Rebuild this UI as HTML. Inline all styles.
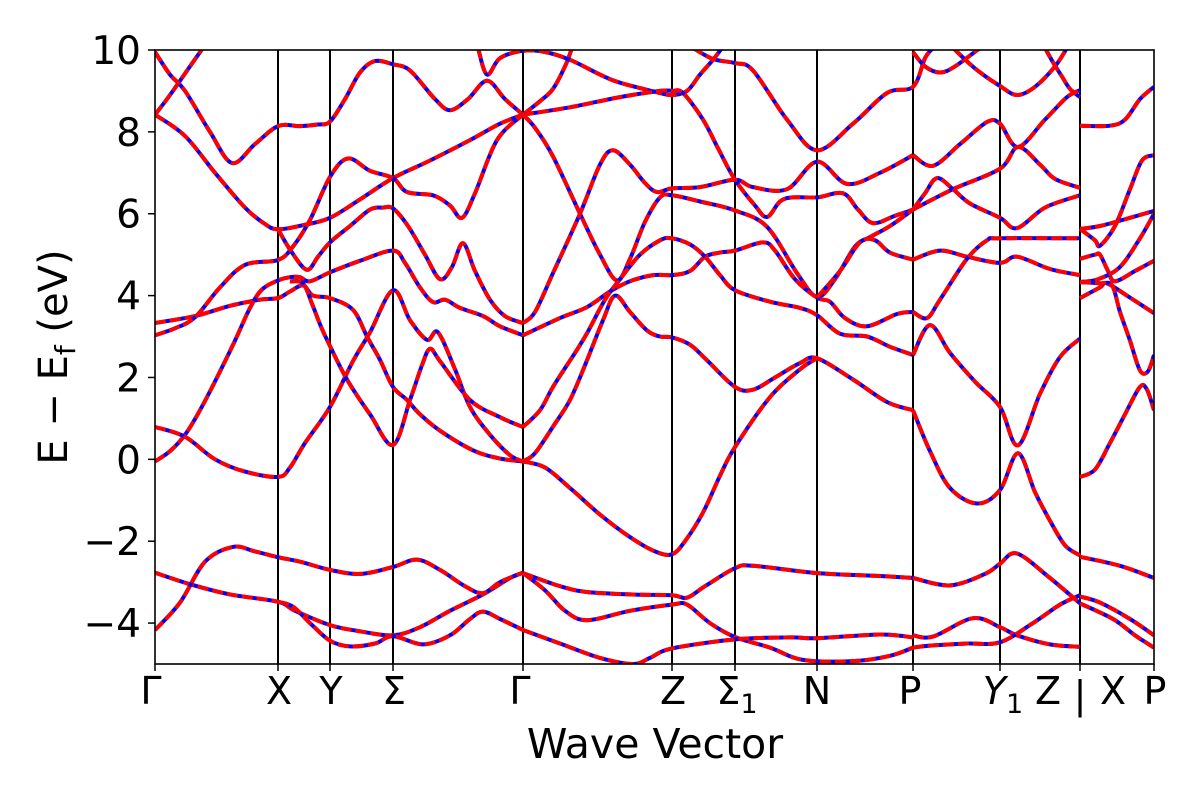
<!DOCTYPE html>
<html><head><meta charset="utf-8"><style>
html,body{margin:0;padding:0;background:#fff;}
svg{display:block;font-family:"DejaVu Sans","Liberation Sans",sans-serif;}
</style></head><body>
<svg id="chart" width="1200" height="800" viewBox="0 0 1200 800" xmlns="http://www.w3.org/2000/svg">
<defs><clipPath id="plotclip"><rect x="155" y="50" width="999" height="614"/></clipPath></defs>
<rect x="0" y="0" width="1200" height="800" fill="#fff"/>
<g id="vlines"></g>
<g id="bands" clip-path="url(#plotclip)"></g>
<rect x="155" y="50" width="999" height="614" fill="none" stroke="#000" stroke-width="1.6"/>
<g id="yticks"></g>
<g id="xticks"></g>
<text x="655" y="758" font-size="41" text-anchor="middle">Wave Vector</text>
<text transform="translate(67,357) rotate(-90)" font-size="40" text-anchor="middle">E − E<tspan font-size="28" dy="8">f</tspan><tspan dy="-8"> (eV)</tspan></text>
</svg>
<script>
const kTicks = [155, 278, 330, 393, 523, 672, 735, 817, 913, 1000, 1080, 1154];
const yTickValues = [-4, -2, 0, 2, 4, 6, 8, 10];
const yTickLabels = ["−4", "−2", "0", "2", "4", "6", "8", "10"];
const kMin = 155, kMax = 1154, eMin = -5, eMax = 10;

// Γ–X
const b01 = [[155,8.42],[170,8.9],[190,9.6],[203,10.05]];
const b02 = [[155,9.95],[170,9.4],[185,9.0],[210,8.0],[232,7.24],[255,7.7],[278,8.14],[300,8.14],[318,8.18],[330,8.25],[345,8.8],[360,9.45],[375,9.73],[393,9.65],[410,9.5],[435,8.8],[450,8.53],[468,8.8],[487,9.25],[505,8.8],[523,8.42]];
const b03 = [[155,8.42],[185,7.9],[215,7.0],[245,6.15],[265,5.75],[278,5.62],[303,5.72],[330,5.9],[360,6.35],[393,6.87],[430,7.3],[470,7.8],[500,8.2],[523,8.42]];
const b04 = [[155,3.33],[195,3.5],[230,3.75],[260,3.9],[278,3.94],[290,4.1],[303,4.25],[313,4.0],[330,3.94],[353,3.65],[367,3.0],[380,2.43],[393,1.77],[407,1.45],[420,1.1],[440,0.7],[473,0.22],[500,0.02],[523,-0.05]];
const b05 = [[155,3.03],[175,3.2],[195,3.47],[220,4.2],[245,4.75],[278,4.87],[293,5.2],[310,5.85],[330,6.9],[348,7.35],[370,7.05],[393,6.87],[407,6.53],[433,6.45],[450,6.2],[462,5.9],[475,6.5],[497,7.8],[523,8.42]];
const b06 = [[155,-0.05],[170,0.2],[185,0.6],[200,1.2],[217,2.0],[235,2.9],[250,3.7],[262,4.15],[278,4.37],[290,4.45],[300,4.45],[310,4.35],[330,4.57],[360,4.85],[393,5.1],[405,4.8],[420,4.2],[433,3.84],[445,3.9],[460,3.7],[483,3.5],[500,3.25],[523,3.03]];
const b07 = [[155,0.79],[185,0.55],[215,0.0],[245,-0.3],[278,-0.43],[290,-0.2],[305,0.4],[330,1.28],[353,2.4],[370,3.1],[393,4.13],[410,3.4],[427,2.92],[438,3.1],[455,2.2],[470,1.28],[490,0.6],[510,0.1],[523,-0.05]];
const b08 = [[278,5.62],[292,5.05],[307,4.63],[318,4.95],[330,5.3],[350,5.7],[370,6.1],[383,6.15],[393,6.13],[408,5.7],[425,5.0],[440,4.4],[452,4.7],[463,5.28],[475,4.6],[490,3.9],[505,3.5],[523,3.33]];
const b09 = [[290,4.35],[303,4.3],[312,3.8],[320,3.3],[327,2.92],[347,1.95],[370,1.1],[393,0.35],[410,1.45],[422,2.3],[430,2.7],[440,2.4],[470,1.45],[500,1.03],[523,0.79]];
const b10 = [[155,-2.77],[190,-3.05],[230,-3.3],[278,-3.48],[295,-3.7],[330,-4.05],[360,-4.2],[393,-4.3],[420,-4.1],[450,-3.7],[483,-3.3],[510,-2.9],[523,-2.77]];
const b11 = [[155,-4.17],[180,-3.5],[205,-2.5],[233,-2.14],[255,-2.25],[278,-2.39],[300,-2.5],[330,-2.7],[360,-2.8],[393,-2.63],[417,-2.45],[440,-2.7],[465,-3.1],[483,-3.27],[500,-3.0],[523,-2.77]];
const b12 = [[278,-3.48],[293,-3.6],[310,-4.0],[330,-4.43],[350,-4.57],[375,-4.5],[393,-4.32],[423,-4.52],[450,-4.3],[470,-3.9],[483,-3.72],[500,-3.9],[523,-4.17]];
// Γ–Z–Σ1–N–P
const b13 = [[478,10.05],[487,9.4],[500,9.8],[523,9.98],[545,9.95],[570,9.76],[600,9.4],[620,9.2],[660,8.95],[672,8.9],[687,9.0],[700,9.4],[713,9.76],[722,10.05]];
const b14 = [[523,8.42],[540,8.75],[553,9.05],[565,9.6],[572,10.05]];
const b15 = [[523,8.42],[570,8.6],[620,8.85],[660,9.0],[672,9.0],[683,8.95],[703,8.3],[718,7.6],[735,6.83],[755,6.2],[767,5.92],[780,6.3],[793,6.4],[817,6.4],[843,6.5],[858,6.1],[873,5.77],[895,5.95],[913,6.1]];
const b16 = [[523,8.42],[535,8.1],[553,7.4],[580,6.0],[600,5.0],[617,4.37],[630,4.9],[645,5.8],[660,6.4],[672,6.45],[700,6.3],[735,6.08],[767,5.68],[797,4.55],[817,3.97],[835,4.4],[855,5.2],[870,5.43],[890,5.7],[913,6.1]];
const b17 = [[523,3.33],[535,3.6],[553,4.55],[580,6.0],[600,7.2],[613,7.55],[630,7.2],[645,6.75],[657,6.53],[672,6.62],[700,6.65],[735,6.83],[753,6.65],[787,6.6],[817,7.27],[847,6.73],[880,7.0],[913,7.43]];
const b18 = [[523,3.03],[560,3.45],[587,3.72],[610,4.1],[630,4.35],[653,4.5],[672,4.5],[690,4.6],[705,4.95],[720,5.05],[735,5.1],[763,5.3],[775,5.1],[795,4.4],[817,3.95],[830,3.85],[845,3.45],[867,3.25],[897,3.55],[913,3.6]];
const b19 = [[523,0.79],[540,1.2],[553,1.77],[575,2.6],[587,3.08],[605,3.9],[620,4.4],[640,5.0],[660,5.35],[672,5.4],[690,5.25],[705,4.95],[720,4.5],[735,4.13],[770,3.85],[800,3.7],[817,3.52],[840,3.07],[867,3.0],[890,2.75],[913,2.55]];
const b20 = [[523,-0.05],[535,0.15],[553,0.8],[570,1.45],[585,2.3],[603,3.4],[615,4.0],[630,3.6],[647,3.15],[660,3.0],[672,2.98],[690,2.8],[707,2.42],[735,1.77],[753,1.7],[775,2.0],[800,2.35],[817,2.47],[853,1.95],[887,1.4],[913,1.2]];
const b21 = [[523,-0.05],[545,-0.2],[570,-0.7],[600,-1.35],[630,-1.9],[655,-2.25],[672,-2.32],[685,-2.0],[703,-1.3],[720,-0.4],[735,0.3],[770,1.52],[800,2.2],[817,2.47]];
const b22 = [[817,3.95],[840,4.6],[860,5.3],[875,5.35],[890,5.05],[913,4.88]];
const b23 = [[693,10.05],[713,9.78],[735,9.68],[753,9.5],[787,8.3],[817,7.55],[853,8.2],[887,8.95],[913,9.1],[925,9.8],[933,10.05]];
const b24 = [[523,-2.78],[560,-3.1],[587,-3.24],[630,-3.3],[672,-3.32],[687,-3.38],[705,-3.1],[735,-2.66],[753,-2.6],[817,-2.78],[880,-2.85],[913,-2.9]];
const b25 = [[523,-2.78],[545,-3.2],[565,-3.7],[587,-3.93],[630,-3.7],[672,-3.55],[687,-3.55],[710,-4.0],[735,-4.34],[770,-4.6],[803,-4.9],[853,-4.93],[890,-4.8],[913,-4.6]];
const b26 = [[523,-4.17],[560,-4.5],[600,-4.85],[633,-5.0],[650,-4.85],[672,-4.62],[735,-4.4],[790,-4.35],[817,-4.37],[880,-4.28],[913,-4.35]];
// P–Y1–Z
const b27 = [[913,9.95],[925,9.6],[940,9.45],[955,9.6],[980,10.05]];
const b28 = [[953,10.05],[975,9.55],[1000,9.12],[1017,8.9],[1035,9.1],[1055,9.6],[1067,10.05]];
const b29 = [[1045,10.05],[1053,9.7],[1062,9.35],[1070,9.05],[1080,8.85]];
const b30 = [[913,7.43],[933,7.17],[960,7.7],[987,8.24],[1000,8.2],[1018,7.63],[1045,8.3],[1067,8.85],[1080,9.02]];
const b31 = [[913,6.1],[953,6.6],[1000,7.1],[1018,7.63],[1040,7.2],[1055,6.85],[1080,6.63]];
const b32 = [[913,6.1],[925,6.5],[937,6.87],[953,6.6],[970,6.25],[1000,5.9],[1017,5.65],[1045,6.15],[1080,6.45]];
const b33 = [[913,4.88],[940,5.1],[967,4.95],[1000,4.8],[1017,4.95],[1050,4.65],[1080,4.5]];
const b34 = [[913,3.6],[927,3.45],[940,3.9],[967,4.9],[987,5.35],[1000,5.4],[1080,5.4]];
const b35 = [[913,2.55],[930,3.28],[950,2.6],[975,1.9],[1000,1.28],[1018,0.34],[1040,1.6],[1060,2.5],[1080,2.95]];
const b36 = [[913,1.2],[930,0.2],[950,-0.7],[977,-1.08],[1000,-0.75],[1018,0.15],[1035,-0.8],[1050,-1.5],[1065,-2.1],[1080,-2.35]];
const b37 = [[913,-2.9],[950,-3.08],[985,-2.8],[1000,-2.55],[1017,-2.3],[1050,-2.9],[1080,-3.52]];
const b38 = [[913,-4.3],[933,-4.33],[973,-3.88],[1000,-4.1],[1017,-4.3],[1050,-4.52],[1080,-4.58]];
const b39 = [[913,-4.6],[930,-4.55],[967,-4.5],[1000,-4.47],[1033,-4.0],[1060,-3.55],[1080,-3.32]];
// X–P
const b40 = [[1080,8.15],[1110,8.15],[1125,8.3],[1140,8.8],[1154,9.1]];
const b41 = [[1080,5.63],[1095,5.35],[1100,5.22],[1115,5.7],[1130,6.6],[1142,7.3],[1154,7.43]];
const b42 = [[1080,5.63],[1100,5.7],[1130,5.9],[1154,6.07]];
const b43 = [[1080,4.9],[1095,5.0],[1100,5.0],[1108,4.6],[1115,4.35],[1135,4.6],[1154,4.85]];
const b44 = [[1080,4.33],[1098,4.4],[1120,4.7],[1140,5.4],[1154,6.0]];
const b45 = [[1080,3.94],[1100,4.2],[1107,4.3],[1130,3.95],[1154,3.57]];
const b46 = [[1080,4.33],[1100,4.3],[1112,4.25],[1120,3.6],[1130,2.9],[1140,2.17],[1148,2.15],[1154,2.55]];
const b47 = [[1080,-0.43],[1095,-0.25],[1110,0.4],[1125,1.1],[1140,1.77],[1147,1.7],[1154,1.2]];
const b48 = [[1080,-2.38],[1120,-2.6],[1154,-2.9]];
const b49 = [[1080,-3.35],[1100,-3.5],[1130,-3.9],[1154,-4.3]];
const b50 = [[1080,-3.52],[1113,-3.9],[1135,-4.3],[1154,-4.6]];

const bands = [b01,b02,b03,b04,b05,b06,b07,b08,b09,b10,b11,b12,b13,b14,b15,b16,b17,b18,b19,b20,b21,b22,b23,b24,b25,b26,b27,b28,b29,b30,b31,b32,b33,b34,b35,b36,b37,b38,b39,b40,b41,b42,b43,b44,b45,b46,b47,b48,b49,b50];

const X0 = 155, X1 = 1154, Y0 = 50, Y1 = 664;
function xs(k){ return X0 + (k - kMin) / (kMax - kMin) * (X1 - X0); }
function ys(e){ return Y1 - (e - eMin) / (eMax - eMin) * (Y1 - Y0); }
const NS = "http://www.w3.org/2000/svg";

function pathFor(data){
  const p = data.map(d => [xs(d[0]), ys(d[1])]);
  let s = "M" + p[0][0].toFixed(1) + "," + p[0][1].toFixed(1);
  for (let i = 0; i < p.length - 1; i++){
    const p0 = p[i-1] || p[i], p1 = p[i], p2 = p[i+1], p3 = p[i+2] || p[i+1];
    const c1x = p1[0] + (p2[0]-p0[0])/6, c1y = p1[1] + (p2[1]-p0[1])/6;
    const c2x = p2[0] - (p3[0]-p1[0])/6, c2y = p2[1] - (p3[1]-p1[1])/6;
    s += " C" + c1x.toFixed(1) + "," + c1y.toFixed(1) + " " + c2x.toFixed(1) + "," + c2y.toFixed(1) + " " + p2[0].toFixed(1) + "," + p2[1].toFixed(1);
  }
  return s;
}

const vg = document.getElementById("vlines");
kTicks.slice(1, -1).forEach(k => {
  const l = document.createElementNS(NS, "line");
  l.setAttribute("x1", xs(k)); l.setAttribute("x2", xs(k));
  l.setAttribute("y1", Y0); l.setAttribute("y2", Y1);
  l.setAttribute("stroke", "#000"); l.setAttribute("stroke-width", "2");
  
  
  vg.appendChild(l);
});

const bg = document.getElementById("bands");
bands.forEach(b => {
  const d = pathFor(b);
  const u = document.createElementNS(NS, "path");
  u.setAttribute("d", d); u.setAttribute("fill", "none");
  u.setAttribute("stroke", "#0000ff"); u.setAttribute("stroke-width", "4");
  
  
  bg.appendChild(u);
  const r = document.createElementNS(NS, "path");
  r.setAttribute("d", d); r.setAttribute("fill", "none");
  r.setAttribute("stroke", "#ff0000"); r.setAttribute("stroke-width", "4");
  r.setAttribute("stroke-dasharray", "11 4");
  
  
  bg.appendChild(r);
});

const yg = document.getElementById("yticks");
yTickValues.forEach((v, i) => {
  const t = document.createElementNS(NS, "line");
  t.setAttribute("x1", X0 - 7); t.setAttribute("x2", X0);
  t.setAttribute("y1", ys(v)); t.setAttribute("y2", ys(v));
  t.setAttribute("stroke", "#000"); t.setAttribute("stroke-width", "1.5");
  
  
  yg.appendChild(t);
  const tx = document.createElementNS(NS, "text");
  tx.setAttribute("x", X0 - 14); tx.setAttribute("y", ys(v) + 14);
  tx.setAttribute("font-size", "39"); tx.setAttribute("text-anchor", "end");
  tx.textContent = yTickLabels[i];
  
  
  yg.appendChild(tx);
});

const xg = document.getElementById("xticks");
kTicks.forEach(k => {
  const t = document.createElementNS(NS, "line");
  t.setAttribute("x1", xs(k)); t.setAttribute("x2", xs(k));
  t.setAttribute("y1", Y1); t.setAttribute("y2", Y1 + 7);
  t.setAttribute("stroke", "#000"); t.setAttribute("stroke-width", "1.5");
  
  
  xg.appendChild(t);
});
</script>
<svg width="0" height="0" style="position:absolute"></svg>
<div style="position:absolute;left:0;top:0;width:1200px;height:800px;pointer-events:none;">
<svg width="1200" height="800" viewBox="0 0 1200 800" style="position:absolute;left:0;top:0;font-family:'DejaVu Sans','Liberation Sans',sans-serif;">
<g font-size="38" text-anchor="middle">
<text x="151" y="704">Γ</text>
<text x="279" y="704">X</text>
<text x="331" y="704">Y</text>
<text x="394" y="704">Σ</text>
<text x="520" y="704">Γ</text>
<text x="673" y="704">Z</text>
<text x="737" y="704">Σ<tspan font-size="27" dy="9">1</tspan></text>
<text x="817" y="704">N</text>
<text x="910" y="704">P</text>
<text x="1003" y="704"><tspan font-style="italic">Y</tspan><tspan font-size="27" dy="9">1</tspan></text>
<text x="1048" y="704">Z</text>
<text x="1080" y="708">|</text>
<text x="1113" y="704">X</text>
<text x="1155" y="704">P</text>
</g>
</svg>
</div>
</body></html>
